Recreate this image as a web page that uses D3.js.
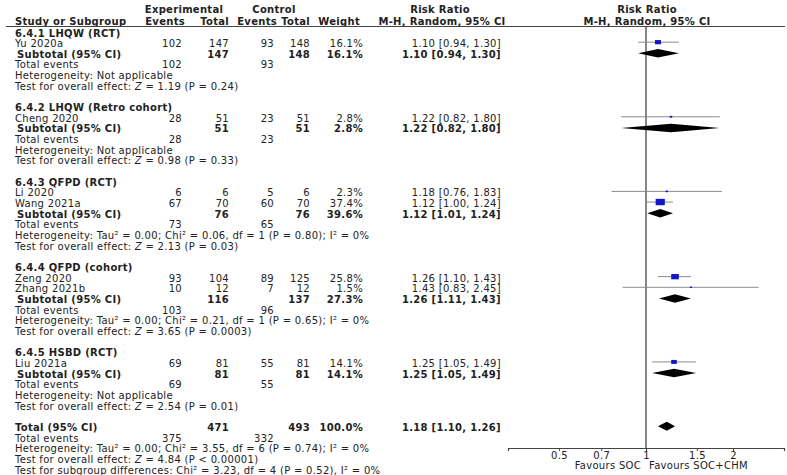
<!DOCTYPE html>
<html><head><meta charset="utf-8">
<script src="https://cdn.jsdelivr.net/npm/d3@7"></script>
<style>
body{margin:0;background:#fff}
text{font-family:"DejaVu Sans",Verdana,sans-serif;font-size:10px;letter-spacing:0.3px;fill:#222}
.b{font-weight:bold}
</style>
</head><body><svg id="c" width="787" height="475"></svg>
<script>
// ---------- data ----------
const groupTitles = ["6.4.1 LHQW (RCT)", "6.4.2 LHQW (Retro cohort)", "6.4.3 QFPD (RCT)", "6.4.4 QFPD (cohort)", "6.4.5 HSBD (RCT)"];
const studyNames = ["Yu 2020a", "Cheng 2020", "Li 2020", "Wang 2021a", "Zeng 2020", "Zhang 2021b", "Liu 2021a"];
const studyGroup = [0, 1, 2, 2, 3, 3, 4];
const expEvents = [102, 28, 6, 67, 93, 10, 69];
const expTotal = [147, 51, 6, 70, 104, 12, 81];
const ctlEvents = [93, 23, 5, 60, 89, 7, 55];
const ctlTotal = [148, 51, 6, 70, 125, 12, 81];
const studyWeight = [16.1, 2.8, 2.3, 37.4, 25.8, 1.5, 14.1];
const studyRR = [1.10, 1.22, 1.18, 1.12, 1.26, 1.43, 1.25];
const studyLo = [0.94, 0.82, 0.76, 1.00, 1.10, 0.83, 1.05];
const studyHi = [1.30, 1.80, 1.83, 1.24, 1.43, 2.45, 1.49];

const subExpEvents = [102, 28, 73, 103, 69];
const subCtlEvents = [93, 23, 65, 96, 55];
const subExpTotal = [147, 51, 76, 116, 81];
const subCtlTotal = [148, 51, 76, 137, 81];
const subWeight = [16.1, 2.8, 39.6, 27.3, 14.1];
const subRR = [1.10, 1.22, 1.12, 1.26, 1.25];
const subLo = [0.94, 0.82, 1.01, 1.11, 1.05];
const subHi = [1.30, 1.80, 1.24, 1.43, 1.49];
const subHetero = ["Not applicable", "Not applicable",
  "Tau² = 0.00; Chi² = 0.06, df = 1 (P = 0.80); I² = 0%",
  "Tau² = 0.00; Chi² = 0.21, df = 1 (P = 0.65); I² = 0%",
  "Not applicable"];
const subZ = ["1.19", "0.98", "2.13", "3.65", "2.54"];
const subP = ["P = 0.24", "P = 0.33", "P = 0.03", "P = 0.0003", "P = 0.01"];

const totalEvents = [375, 332];
const totalN = [471, 493];
const totalWeight = [100.0];
const totalRR = [1.18, 1.10, 1.26];
const totalHetero = ["Tau² = 0.00; Chi² = 3.55, df = 6 (P = 0.74); I² = 0%"];
const totalZ = ["4.84"];
const totalP = ["P < 0.00001"];
const subgroupDiff = ["Chi² = 3.23, df = 4 (P = 0.52), I² = 0%"];

const axisTicks = [0.5, 0.7, 1, 1.5, 2];
const axisLabels = ["0.5", "0.7", "1", "1.5", "2"];
const favourLabels = ["Favours SOC", "Favours SOC+CHM"];

// ---------- layout ----------
const svg = d3.select("#c");
const rowY = d3.scaleLinear().domain([0, 41]).range([33, 470]);
const x = d3.scaleLog().domain([1 / 3, 3]).range([508, 784]);
const colLabel = 15, colEE = 182, colET = 229, colCE = 274, colCT = 310, colW = 363, colCI = 501;
const axisY = 448;

function txt(str, xx, row, anchor, bold) {
  return svg.append("text").attr("x", xx).attr("y", rowY(row) + 3.5)
    .attr("text-anchor", anchor || "start").attr("class", bold ? "b" : null).text(str);
}
function ztxt(z, p, row) {
  const t = svg.append("text").attr("x", colLabel).attr("y", rowY(row) + 3.5);
  t.append("tspan").text("Test for overall effect: ");
  t.append("tspan").attr("font-style", "italic").text("Z");
  t.append("tspan").text(" = " + z + " (" + p + ")");
}
const ci = (r, l, h) => r.toFixed(2) + " [" + l.toFixed(2) + ", " + h.toFixed(2) + "]";
const pct = w => w.toFixed(1) + "%";

// header
svg.append("text").attr("x", 184).attr("y", 13).attr("text-anchor", "middle").attr("class", "b").text("Experimental");
svg.append("text").attr("x", 274).attr("y", 13).attr("text-anchor", "middle").attr("class", "b").text("Control");
svg.append("text").attr("x", 440).attr("y", 13).attr("text-anchor", "middle").attr("class", "b").text("Risk Ratio");
svg.append("text").attr("x", 647).attr("y", 13).attr("text-anchor", "middle").attr("class", "b").text("Risk Ratio");
const h2 = 25;
svg.append("text").attr("x", colLabel).attr("y", h2).attr("class", "b").text("Study or Subgroup");
svg.append("text").attr("x", colEE + 3).attr("y", h2).attr("text-anchor", "end").attr("class", "b").text("Events");
svg.append("text").attr("x", colET).attr("y", h2).attr("text-anchor", "end").attr("class", "b").text("Total");
svg.append("text").attr("x", colCE + 3).attr("y", h2).attr("text-anchor", "end").attr("class", "b").text("Events");
svg.append("text").attr("x", colCT).attr("y", h2).attr("text-anchor", "end").attr("class", "b").text("Total");
svg.append("text").attr("x", colW - 3).attr("y", h2).attr("text-anchor", "end").attr("class", "b").text("Weight");
svg.append("text").attr("x", 442).attr("y", h2).attr("text-anchor", "middle").attr("class", "b").text("M-H, Random, 95% CI");
svg.append("text").attr("x", 647).attr("y", h2).attr("text-anchor", "middle").attr("class", "b").text("M-H, Random, 95% CI");
svg.append("line").attr("x1", 6).attr("x2", 785).attr("y1", 26.5).attr("y2", 26.5).attr("stroke", "#444").attr("stroke-width", 1.2);

// null line
svg.append("line").attr("x1", x(1)).attr("x2", x(1)).attr("y1", 26.5).attr("y2", axisY)
  .attr("stroke", "#444").attr("stroke-width", 1.3);

const plot = svg.append("g");
function study(i, row) {
  txt(studyNames[i], colLabel, row);
  txt(expEvents[i], colEE, row, "end");
  txt(expTotal[i], colET, row, "end");
  txt(ctlEvents[i], colCE, row, "end");
  txt(ctlTotal[i], colCT, row, "end");
  txt(pct(studyWeight[i]), colW, row, "end");
  txt(ci(studyRR[i], studyLo[i], studyHi[i]), colCI, row, "end");
  const cy = rowY(row) - 1.5;
  plot.append("line").attr("x1", x(studyLo[i])).attr("x2", x(studyHi[i])).attr("y1", cy).attr("y2", cy)
    .attr("stroke", "#8a8a8a").attr("stroke-width", 1);
  const s = Math.sqrt(studyWeight[i]);
  const w = Math.max(2, s * 1.5), h = Math.max(1.5, s * 1.05);
  plot.append("rect").attr("x", x(studyRR[i]) - w / 2).attr("y", cy - h / 2).attr("width", w).attr("height", h)
    .attr("fill", "#1414c8");
}
function diamond(r, l, h, row, half) {
  const cy = rowY(row) - 1;
  plot.append("path").attr("d", `M${x(l)},${cy}L${x(r)},${cy - half}L${x(h)},${cy}L${x(r)},${cy + half}Z`).attr("fill", "#000");
}

let row = 0;
groupTitles.forEach((g, gi) => {
  txt(g, colLabel, row, "start", true); row++;
  studyGroup.forEach((sg, si) => { if (sg === gi) { study(si, row); row++; } });
  txt("Subtotal (95% CI)", colLabel + 2, row, "start", true);
  txt(subExpTotal[gi], colET, row, "end", true);
  txt(subCtlTotal[gi], colCT, row, "end", true);
  txt(pct(subWeight[gi]), colW, row, "end", true);
  txt(ci(subRR[gi], subLo[gi], subHi[gi]), colCI, row, "end", true);
  diamond(subRR[gi], subLo[gi], subHi[gi], row, 4.2);
  row++;
  txt("Total events", colLabel, row);
  txt(subExpEvents[gi], colEE, row, "end");
  txt(subCtlEvents[gi], colCE, row, "end"); row++;
  txt("Heterogeneity: " + subHetero[gi], colLabel, row); row++;
  ztxt(subZ[gi], subP[gi], row); row++;
  row++;
});
txt("Total (95% CI)", colLabel, row, "start", true);
txt(totalN[0], colET, row, "end", true);
txt(totalN[1], colCT, row, "end", true);
txt(pct(totalWeight[0]), colW, row, "end", true);
txt(ci(totalRR[0], totalRR[1], totalRR[2]), colCI, row, "end", true);
diamond(totalRR[0], totalRR[1], totalRR[2], row, 4.5);
row++;
txt("Total events", colLabel, row);
txt(totalEvents[0], colEE, row, "end");
txt(totalEvents[1], colCE, row, "end"); row++;
txt("Heterogeneity: " + totalHetero[0], colLabel, row); row++;
ztxt(totalZ[0], totalP[0], row); row++;
txt("Test for subgroup differences: " + subgroupDiff[0], colLabel, row);

// axis
const ax = svg.append("g").attr("transform", `translate(0,${axisY})`)
  .call(d3.axisBottom(x).tickValues(axisTicks).tickFormat((d, i) => axisLabels[i]).tickSizeOuter(0).tickSize(3).tickPadding(1));
ax.select(".domain").attr("stroke", "#444").attr("stroke-width", 1.2);
ax.selectAll(".tick line").attr("stroke", "#444");
ax.selectAll(".tick text").attr("font-size", "7.5px").attr("font-family", '"DejaVu Sans",Verdana,sans-serif').attr("fill", "#333");
svg.append("text").attr("x", x(1) - 5).attr("y", 469).attr("text-anchor", "end").attr("font-size", "7.5px").text(favourLabels[0]);
svg.append("text").attr("x", x(1) + 3).attr("y", 469).attr("text-anchor", "start").attr("font-size", "7.5px").text(favourLabels[1]);
</script>
</body></html>
